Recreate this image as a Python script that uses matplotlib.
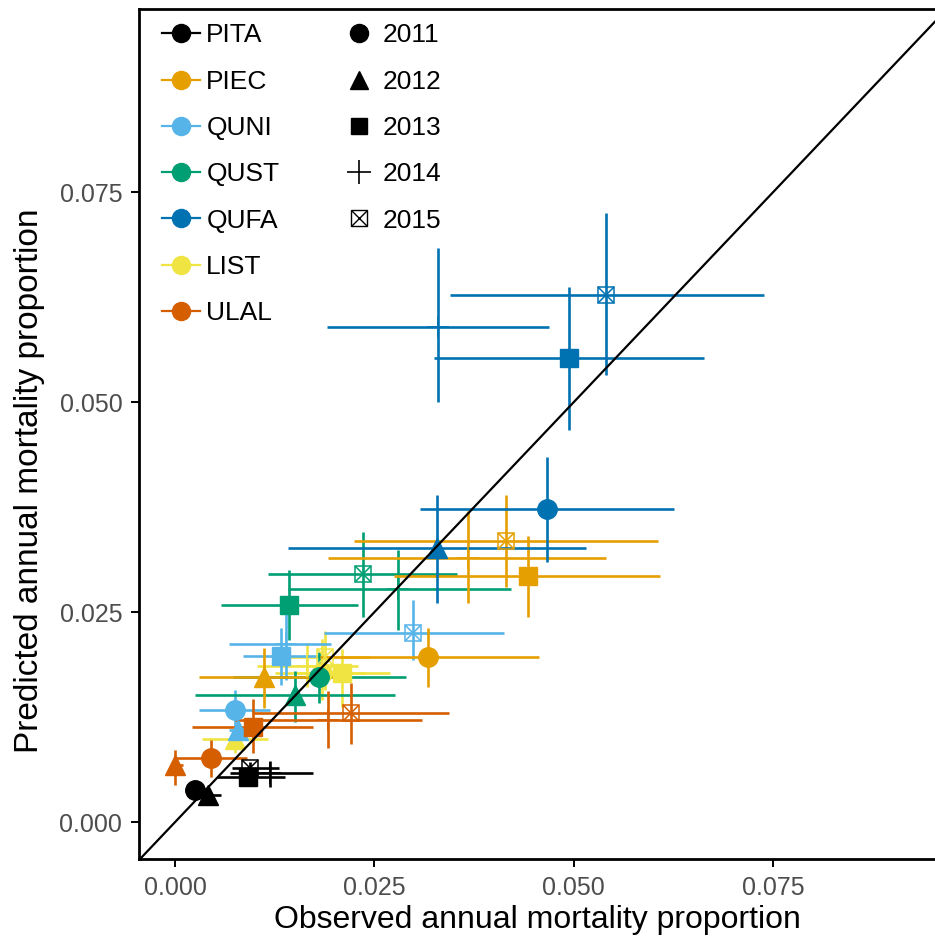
import numpy as np
import matplotlib.pyplot as plt
from matplotlib.lines import Line2D

plt.rcParams['font.family'] = ['Liberation Sans', 'DejaVu Sans']

sites = ['PITA', 'PIEC', 'QUNI', 'QUST', 'QUFA', 'LIST', 'ULAL']
years = ['2011', '2012', '2013', '2014', '2015']
site_colors = ['#000000', '#E69F00', '#56B4E9', '#009E73', '#0072B2', '#F0E442', '#D55E00']

# observed (x) and predicted (y) annual mortality, rows = sites, cols = years
observed = [
    [0.0025, 0.0041, 0.0092, 0.0119, 0.0094],
    [0.0317, 0.0112, 0.0442, 0.0367, 0.0415],
    [0.0075, 0.0079, 0.0133, 0.0139, 0.0299],
    [0.0181, 0.0151, 0.0143, 0.0280, 0.0236],
    [0.0467, 0.0328, 0.0494, 0.0330, 0.0541],
    [0.0184, 0.0075, 0.0209, 0.0166, 0.0188],
    [0.0045, 0.0000, 0.0098, 0.0192, 0.0221],
]
predicted = [
    [0.0038, 0.0032, 0.0054, 0.0058, 0.0064],
    [0.0197, 0.0173, 0.0293, 0.0315, 0.0335],
    [0.0134, 0.0110, 0.0198, 0.0212, 0.0225],
    [0.0173, 0.0151, 0.0258, 0.0277, 0.0295],
    [0.0373, 0.0326, 0.0552, 0.0590, 0.0628],
    [0.0177, 0.0099, 0.0178, 0.0186, 0.0196],
    [0.0076, 0.0068, 0.0113, 0.0122, 0.0130],
]
obs_lo = [
    [0.0012, 0.0030, 0.0053, 0.0069, 0.0072],
    [0.0182, 0.0030, 0.0274, 0.0192, 0.0224],
    [0.0030, 0.0068, 0.0085, 0.0067, 0.0187],
    [0.0073, 0.0025, 0.0057, 0.0141, 0.0117],
    [0.0307, 0.0141, 0.0325, 0.0191, 0.0345],
    [0.0125, 0.0034, 0.0150, 0.0103, 0.0132],
    [0.0000, 0.0000, 0.0021, 0.0075, 0.0097],
]
obs_hi = [
    [0.0040, 0.0057, 0.0138, 0.0173, 0.0130],
    [0.0456, 0.0207, 0.0608, 0.0540, 0.0606],
    [0.0119, 0.0092, 0.0182, 0.0195, 0.0412],
    [0.0290, 0.0276, 0.0230, 0.0421, 0.0354],
    [0.0626, 0.0515, 0.0663, 0.0469, 0.0739],
    [0.0240, 0.0117, 0.0270, 0.0230, 0.0245],
    [0.0090, 0.0010, 0.0173, 0.0310, 0.0344],
]
pred_lo = [
    [0.0030, 0.0026, 0.0045, 0.0042, 0.0055],
    [0.0161, 0.0136, 0.0244, 0.0261, 0.0280],
    [0.0110, 0.0095, 0.0163, 0.0169, 0.0193],
    [0.0142, 0.0119, 0.0217, 0.0229, 0.0244],
    [0.0310, 0.0261, 0.0467, 0.0500, 0.0532],
    [0.0145, 0.0082, 0.0137, 0.0161, 0.0157],
    [0.0054, 0.0044, 0.0082, 0.0088, 0.0093],
]
pred_hi = [
    [0.0046, 0.0038, 0.0066, 0.0073, 0.0072],
    [0.0231, 0.0207, 0.0341, 0.0370, 0.0390],
    [0.0157, 0.0125, 0.0231, 0.0250, 0.0265],
    [0.0203, 0.0180, 0.0300, 0.0324, 0.0345],
    [0.0435, 0.0390, 0.0637, 0.0683, 0.0725],
    [0.0218, 0.0116, 0.0206, 0.0213, 0.0227],
    [0.0098, 0.0086, 0.0147, 0.0156, 0.0166],
]

x = np.array(observed)
y = np.array(predicted)
xlo, xhi = np.array(obs_lo), np.array(obs_hi)
ylo, yhi = np.array(pred_lo), np.array(pred_hi)

fig = plt.figure(figsize=(9.35, 9.41), dpi=100)
ax = fig.add_axes([0.1487, 0.0871, 0.853, 0.9033])

# 1:1 line
ax.plot([-0.01, 0.11], [-0.01, 0.11], color='black', lw=1.6, zorder=4)

# error bars first, then the points on top
draw_order = [5, 2, 3, 1, 4, 6, 0]
for i in draw_order:
    c = site_colors[i]
    ax.errorbar(x[i], y[i], xerr=[x[i] - xlo[i], xhi[i] - x[i]],
                yerr=[y[i] - ylo[i], yhi[i] - y[i]], fmt='none',
                ecolor=c, elinewidth=1.9, capsize=0, zorder=2)

for i in draw_order:
    c = site_colors[i]
    ax.plot(x[i][0], y[i][0], 'o', color=c, ms=14, zorder=3)
    ax.plot(x[i][1], y[i][1], '^', color=c, ms=14, zorder=3)
    ax.plot(x[i][2], y[i][2], 's', color=c, ms=13, zorder=3)
    ax.plot(x[i][3], y[i][3], '+', color=c, ms=16, mew=1.2, zorder=3)
    ax.plot(x[i][4], y[i][4], 's', mfc='none', mec=c, ms=12, mew=1.1, zorder=3)
    ax.plot(x[i][4], y[i][4], 'x', color=c, ms=11, mew=1.1, zorder=3)

ax.set_xlim(-0.00452, 0.0955)
ax.set_ylim(-0.0044, 0.0968)
ticks = [0.0, 0.025, 0.05, 0.075]
tick_labels = ['0.000', '0.025', '0.050', '0.075']
ax.set_xticks(ticks)
ax.set_yticks(ticks)
ax.set_xticklabels(tick_labels)
ax.set_yticklabels(tick_labels)
ax.tick_params(axis='both', direction='out', length=6, width=1.4, color='black',
               labelsize=18, labelcolor='#4D4D4D', pad=6)
for s in ax.spines.values():
    s.set_linewidth(2.0)
    s.set_color('black')

ax.set_xlabel('Observed annual mortality proportion', fontsize=23, labelpad=4)
ax.set_ylabel('Predicted annual mortality proportion', fontsize=24, labelpad=4)
ax.yaxis.set_label_coords(-0.118, 0.445)

# legends
site_handles = [Line2D([0], [0], color=c, lw=1.6, marker='o', ms=13) for c in site_colors]
leg1 = ax.legend(site_handles, sites, loc='upper left', bbox_to_anchor=(0.0, 1.010),
                 frameon=False, fontsize=19, handlelength=1.45, handletextpad=0.23,
                 labelspacing=0.845, borderaxespad=0.47)
ax.add_artist(leg1)

year_handles = [
    Line2D([0], [0], ls='none', marker='o', color='black', ms=13),
    Line2D([0], [0], ls='none', marker='^', color='black', ms=13),
    Line2D([0], [0], ls='none', marker='s', color='black', ms=12),
    Line2D([0], [0], ls='none', marker='+', color='black', ms=17, mew=1.2),
    (Line2D([0], [0], ls='none', marker='s', mfc='none', mec='black', ms=12, mew=1.0),
     Line2D([0], [0], ls='none', marker='x', color='black', ms=11, mew=1.0)),
]
leg2 = ax.legend(year_handles, years, loc='upper left', bbox_to_anchor=(0.231, 1.010),
                 frameon=False, fontsize=19, handlelength=1.0, handletextpad=0.38,
                 labelspacing=0.845, borderaxespad=0.47)

fig.savefig('out.png', dpi=100)
